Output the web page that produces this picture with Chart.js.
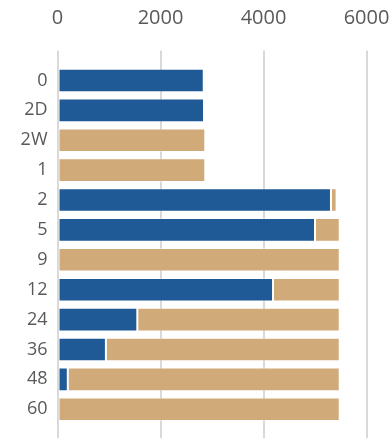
<!DOCTYPE html>
<html>
<head>
<meta charset="utf-8">
<script src="https://cdn.jsdelivr.net/npm/chart.js@4/dist/chart.umd.min.js"></script>
<style>
  html, body { margin: 0; padding: 0; background: #ffffff; }
  #wrap { width: 392px; height: 445px; position: relative; }
</style>
</head>
<body>
<div id="wrap"><canvas id="chart"></canvas></div>
<script>
// Categories down the vertical axis
const categories = ['0', '2D', '2W', '1', '2', '5', '9', '12', '24', '36', '48', '60'];
// Stacked series values
const blueValues = [2840, 2845, 0, 0, 5310, 5000, 0, 4185, 1550, 940, 200, 0];
const tanValues = [0, 25, 2870, 2870, 110, 480, 5480, 1295, 3930, 4540, 5280, 5480];
// Value axis ticks
const xTicks = [0, 2000, 4000, 6000];

const gridColor = '#d9d9d9';
const textColor = '#595959';
const fontFamily = '"Open Sans", "Noto Sans", sans-serif';

const fixedTicks = (axis) => { axis.ticks = xTicks.map(v => ({ value: v })); };

new Chart(document.getElementById('chart'), {
  type: 'bar',
  data: {
    labels: categories,
    datasets: [
      {
        data: blueValues,
        backgroundColor: '#1f5a96',
        borderColor: 'rgba(255,255,255,0.28)',
        borderWidth: 1,
        borderSkipped: false,
        barPercentage: 0.79,
        categoryPercentage: 1
      },
      {
        data: tanValues,
        backgroundColor: '#d0aa79',
        borderColor: 'rgba(255,255,255,0.4)',
        borderWidth: 1,
        borderSkipped: false,
        barPercentage: 0.79,
        categoryPercentage: 1
      }
    ]
  },
  options: {
    indexAxis: 'y',
    responsive: true,
    maintainAspectRatio: false,
    animation: false,
    layout: { padding: 0 },
    plugins: {
      legend: { display: false },
      tooltip: { enabled: false }
    },
    scales: {
      x: {
        position: 'top',
        stacked: true,
        min: xTicks[0],
        max: xTicks[xTicks.length - 1],
        afterBuildTicks: fixedTicks,
        afterFit: (axis) => {
          axis.height = 65.5;
          axis.paddingLeft = 0;
          axis.paddingRight = 25.5;
        },
        grid: { color: gridColor, lineWidth: 2, tickLength: 15, drawTicks: true },
        border: { display: false },
        ticks: {
          color: textColor,
          padding: 20,
          font: { family: fontFamily, size: 20 },
          callback: (v) => String(v)
        }
      },
      xBottom: {
        type: 'linear',
        position: 'bottom',
        min: xTicks[0],
        max: xTicks[xTicks.length - 1],
        afterBuildTicks: fixedTicks,
        afterFit: (axis) => {
          axis.height = 14;
          axis.paddingLeft = 0;
          axis.paddingRight = 0;
        },
        grid: { color: gridColor, lineWidth: 2, tickLength: 14, drawTicks: true },
        border: { display: false },
        ticks: { display: false }
      },
      y: {
        stacked: true,
        grid: { display: false, drawTicks: false },
        border: { display: false },
        afterFit: (axis) => { axis.width = 57.5; },
        ticks: {
          color: textColor,
          padding: 10,
          font: { family: fontFamily, size: 18 }
        }
      }
    }
  }
});
</script>
</body>
</html>
